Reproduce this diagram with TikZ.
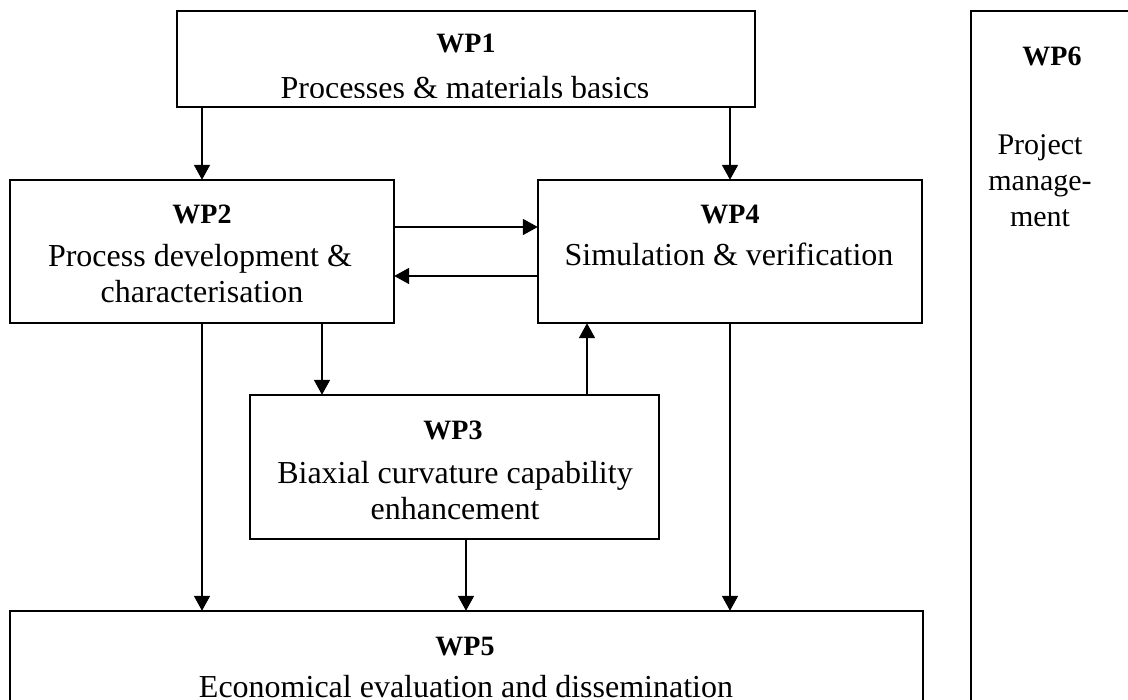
\documentclass[tikz,border=0pt]{standalone}
\usepackage{fontspec}
\setmainfont{Liberation Serif}
\usetikzlibrary{arrows.meta}
\tikzset{
  wpbox/.style={draw, line width=1.8pt, fill=none},
  arr/.style={line width=1.8pt, -{Triangle[length=15pt,width=16pt]}},
  wptitle/.style={anchor=base, inner sep=0pt, font=\fontsize{28}{32}\selectfont\bfseries},
  wptext/.style={anchor=base, inner sep=0pt, font=\fontsize{32}{36}\selectfont},
  wpsmall/.style={anchor=base, inner sep=0pt, font=\fontsize{30}{36}\selectfont},
}
\begin{document}
\begin{tikzpicture}[x=1pt,y=-1pt]
\useasboundingbox (0,0) rectangle (1128,700);
\fill[white] (0,0) rectangle (1128,700);
% boxes
\draw[wpbox] (177,11) rectangle (755,107);
\draw[wpbox] (10,180) rectangle (394,323);
\draw[wpbox] (538,180) rectangle (922,323);
\draw[wpbox] (250,395) rectangle (659,539);
\draw[wpbox] (10,611) rectangle (923,760);
\draw[wpbox] (971,11) rectangle (1160,760);
% named box nodes (invisible) for connectors
\node[inner sep=0pt, minimum width=578pt, minimum height=96pt] (wp1) at (466,59) {};
\node[inner sep=0pt, minimum width=384pt, minimum height=143pt] (wp2) at (202,251.5) {};
\node[inner sep=0pt, minimum width=384pt, minimum height=143pt] (wp4) at (730,251.5) {};
\node[inner sep=0pt, minimum width=409pt, minimum height=144pt] (wp3) at (454.5,467) {};
\node[inner sep=0pt, minimum width=913pt, minimum height=149pt] (wp5) at (466.5,685.5) {};
% texts
\node[wptitle] (t1) at (466,53) {WP1};
\begin{scope}
\clip (177,11) rectangle (755,97.5);
\node[wptext] (t1b) at (465,98.5) {Processes \& materials basics};
\end{scope}
\node[wptitle] (t2) at (202,224) {WP2};
\node[wptext] (t2b) at (200,267) {Process development \&};
\node[wptext] (t2c) at (202,303) {characterisation};
\node[wptitle] (t4) at (730,224) {WP4};
\node[wptext] (t4b) at (729,266) {Simulation \& verification};
\node[wptitle] (t3) at (453,440) {WP3};
\node[wptext] (t3b) at (455,484) {Biaxial curvature capability};
\node[wptext] (t3c) at (455,520) {enhancement};
\node[wptitle] (t5) at (465,655) {WP5};
\node[wptext] (t5b) at (466,697) {Economical evaluation and dissemination};
\node[wptitle] (t6) at (1052,66) {WP6};
\node[wpsmall] (t6b) at (1040,155) {Project};
\node[wpsmall] (t6c) at (1040,191) {manage-};
\node[wpsmall] (t6d) at (1040,227) {ment};
% connector x/y guides
\coordinate (xa) at (202,0);
\coordinate (xb) at (730,0);
\coordinate (xc) at (322,0);
\coordinate (xd) at (587,0);
\coordinate (xe) at (466,0);
\coordinate (ya) at (0,227);
\coordinate (yb) at (0,276);
% connectors
\draw[arr] (wp1.south -| xa) -- (wp2.north -| xa);
\draw[arr] (wp1.south -| xb) -- (wp4.north -| xb);
\draw[arr] (wp2.east |- ya) -- (wp4.west |- ya);
\draw[arr] (wp4.west |- yb) -- (wp2.east |- yb);
\draw[arr] (wp2.south -| xc) -- (wp3.north -| xc);
\draw[arr] (wp3.north -| xd) -- (wp4.south -| xd);
\draw[arr] (wp2.south -| xa) -- (wp5.north -| xa);
\draw[arr] (wp3.south -| xe) -- (wp5.north -| xe);
\draw[arr] (wp4.south -| xb) -- (wp5.north -| xb);
\end{tikzpicture}
\end{document}
